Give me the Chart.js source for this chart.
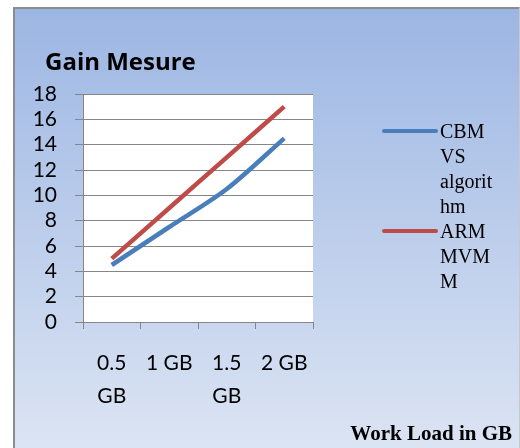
<!DOCTYPE html>
<html>
<head>
<meta charset="utf-8">
<script src="https://cdn.jsdelivr.net/npm/chart.js@4"></script>
<style>
  body { margin: 0; background: #ffffff; }
  #wrap { width: 520px; height: 448px; }
</style>
</head>
<body>
<div id="wrap"><canvas id="gainChart" width="520" height="448"></canvas></div>
<script>
// Chart data
const categories = [["0.5", "GB"], "1 GB", ["1.5", "GB"], "2 GB"];
const cbmValues = [4.5, 7.5, 10.5, 14.5];
const armValues = [5, 9, 13, 17];
const yMin = 0;
const yMax = 18;
const yStep = 2;

// Texts
const chartTitle = "Gain Mesure";
const xTitle = "Work Load in GB";
const cbmLegend = ["CBM", "VS", "algorit", "hm"];
const armLegend = ["ARM", "MVM", "M"];

const blue = "#4a7ebb";
const red = "#be4b48";
const gridGray = "#868686";

// Background, frame and plot area
const backgroundPlugin = {
    id: "backgroundPlugin",
    beforeDraw(chart) {
        const ctx = chart.ctx;
        const area = chart.chartArea;
        ctx.save();
        ctx.fillStyle = "#ffffff";
        ctx.fillRect(0, 0, 520, 448);
        const grad = ctx.createLinearGradient(0, 7, 0, 448);
        grad.addColorStop(0, "#9cb6e3");
        grad.addColorStop(1, "#dbe4f3");
        ctx.fillStyle = grad;
        ctx.fillRect(14, 7, 506, 441);
        ctx.strokeStyle = "#8c8c8c";
        ctx.lineWidth = 2;
        ctx.beginPath();
        ctx.moveTo(14, 449);
        ctx.lineTo(14, 8);
        ctx.lineTo(519, 8);
        ctx.stroke();
        ctx.strokeStyle = "#c8c8c8";
        ctx.lineWidth = 1;
        ctx.beginPath();
        ctx.moveTo(519.5, 8);
        ctx.lineTo(519.5, 449);
        ctx.stroke();
        ctx.fillStyle = "#ffffff";
        ctx.fillRect(area.left, area.top, area.right - area.left, area.bottom - area.top);
        ctx.restore();
    }
};

// Title, legend and axis title
const textPlugin = {
    id: "textPlugin",
    afterDraw(chart) {
        const ctx = chart.ctx;
        ctx.save();
        ctx.fillStyle = "#000000";
        ctx.textBaseline = "alphabetic";
        ctx.textAlign = "left";
        ctx.font = "bold 24px 'Open Sans'";
        ctx.fillText(chartTitle, 45, 70);

        ctx.font = "20px 'Liberation Serif'";
        const entries = [
            { lines: cbmLegend, color: chart.data.datasets[0].borderColor, y: 138 },
            { lines: armLegend, color: chart.data.datasets[1].borderColor, y: 238 }
        ];
        entries.forEach(e => {
            ctx.strokeStyle = e.color;
            ctx.lineWidth = 4;
            ctx.lineCap = "round";
            ctx.beginPath();
            ctx.moveTo(384, e.y - 7);
            ctx.lineTo(436, e.y - 7);
            ctx.stroke();
            e.lines.forEach((t, i) => {
                ctx.fillText(t, 440, e.y + i * 25);
            });
        });

        ctx.font = "bold 21px 'Liberation Serif'";
        ctx.textAlign = "right";
        ctx.fillText(xTitle, 512, 440);
        ctx.restore();
    }
};

const ctx = document.getElementById("gainChart").getContext("2d");

const gainChart = new Chart(ctx, {
    type: "line",
    data: {
        labels: categories,
        datasets: [{
            label: cbmLegend.join(" "),
            data: cbmValues,
            borderColor: blue,
            borderWidth: 4.5,
            pointRadius: 0,
            fill: false,
            tension: 0.3
        }, {
            label: armLegend.join(" "),
            data: armValues,
            borderColor: red,
            borderWidth: 4.5,
            pointRadius: 0,
            fill: false,
            tension: 0.3
        }]
    },
    options: {
        responsive: false,
        animation: false,
        layout: {
            padding: { left: 0, top: 94, right: 207, bottom: 0 }
        },
        plugins: {
            legend: { display: false },
            title: { display: false },
            tooltip: { enabled: false }
        },
        scales: {
            x: {
                offset: true,
                grid: {
                    offset: true,
                    drawOnChartArea: false,
                    drawTicks: true,
                    tickLength: 7,
                    color: gridGray
                },
                border: { color: gridGray, width: 1 },
                ticks: {
                    color: "#000000",
                    padding: 18,
                    maxRotation: 0,
                    autoSkip: false,
                    font: { family: "Lato", size: 21, lineHeight: "33px" }
                },
                afterFit(scale) {
                    scale.height = 126;
                }
            },
            y: {
                min: yMin,
                max: yMax,
                grid: {
                    color: gridGray,
                    tickLength: 8
                },
                border: { color: gridGray, width: 1 },
                ticks: {
                    stepSize: yStep,
                    autoSkip: false,
                    color: "#000000",
                    padding: 18,
                    font: { family: "Lato", size: 21, lineHeight: 1 }
                },
                afterFit(scale) {
                    scale.width = 83;
                }
            }
        }
    },
    plugins: [backgroundPlugin, textPlugin]
});
</script>
</body>
</html>
